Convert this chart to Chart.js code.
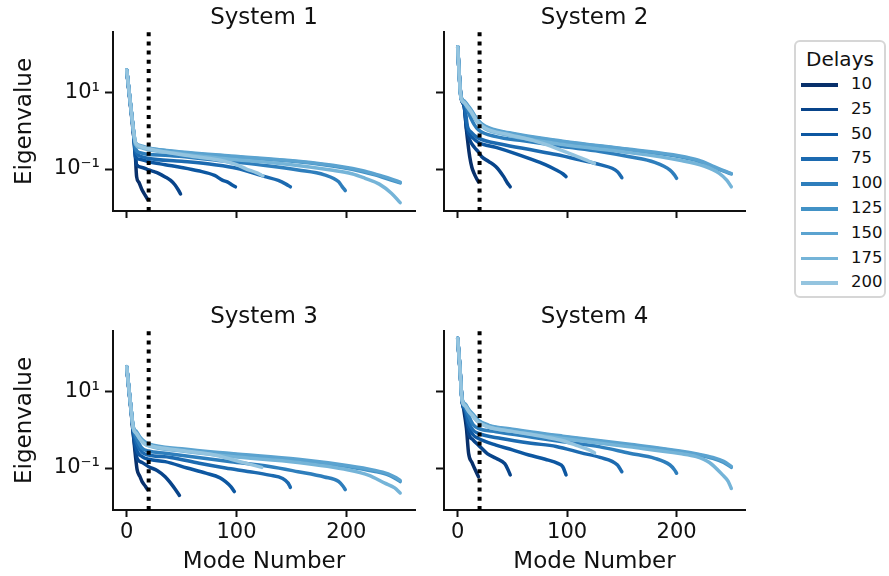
<!DOCTYPE html>
<html>
<head>
<meta charset="utf-8">
<script src="https://cdn.jsdelivr.net/npm/chart.js@4.4.1/dist/chart.umd.min.js"></script>
<style>
html,body{margin:0;padding:0;background:#fff;}
#wrap{position:relative;width:889px;height:576px;overflow:hidden;font-family:'DejaVu Sans',sans-serif;color:#111;}
canvas{position:absolute;}
#legend{position:absolute;left:794px;top:40px;width:92px;height:258px;border:2px solid #d6d6d6;border-radius:6px;box-sizing:border-box;background:#fff;}
#legend .ttl{position:absolute;left:0;width:100%;top:4px;text-align:center;font-size:20px;line-height:26px;}
#legend .row{position:absolute;left:0;width:100%;height:20px;}
#legend .hd{position:absolute;left:5px;width:37px;height:3.5px;top:9px;}
#legend .lb{position:absolute;left:55px;top:0;font-size:16.5px;line-height:20px;}
</style>
</head>
<body>
<div id="wrap">
  <canvas id="c1" width="430" height="260" style="left:0px;top:0px"></canvas>
  <canvas id="c2" width="330" height="260" style="left:430px;top:0px"></canvas>
  <canvas id="c3" width="430" height="277" style="left:0px;top:299px"></canvas>
  <canvas id="c4" width="330" height="277" style="left:430px;top:299px"></canvas>
  <div id="legend"></div>
</div>
<script>
// ---------- data ----------
const delays = [10, 25, 50, 75, 100, 125, 150, 175, 200];
const titles = ['System 1', 'System 2', 'System 3', 'System 4'];
const xTicks = [0, 100, 200];
const yTicks = [0.1, 10];
const yTickLabels = ['10\u207B\u00B9', '10\u00B9'];
const cutoffMode = 20;
const xLabel = 'Mode Number';
const yLabel = 'Eigenvalue';
const legendTitle = 'Delays';

// System 1  ([mode, eigenvalue])
const sys1_d10  = [[0,38],[2,11],[4,3.2],[6,0.9],[7.6,0.32],[9,0.063],[11,0.045],[14,0.028],[17,0.02],[19,0.016]];
const sys1_d25  = [[0,39],[2,11.5],[4,3.4],[6,1.0],[8,0.21],[9,0.13],[14,0.11],[20,0.094],[25,0.085],[29,0.077],[35,0.062],[40,0.05],[44,0.038],[47,0.028],[49,0.022]];
const sys1_d50  = [[0,40],[2,12],[4,3.5],[6,1.05],[8,0.21],[12,0.18],[20,0.155],[35,0.13],[50,0.11],[65,0.09],[80,0.068],[87,0.051],[92,0.045],[96,0.038],[99,0.034]];
const sys1_d75  = [[0,40],[2,12],[4,3.6],[6,1.1],[8,0.3],[12,0.22],[20,0.19],[50,0.16],[80,0.13],[100,0.105],[126,0.063],[138,0.05],[145,0.04],[149,0.034]];
const sys1_d100 = [[0,40],[2,12],[4,3.6],[6,1.1],[8,0.35],[12,0.27],[20,0.24],[35,0.23],[95,0.155],[130,0.12],[156,0.094],[180,0.07],[193,0.046],[196,0.035],[199,0.027]];
const sys1_d125 = [[0,40],[2,12],[4,3.6],[6,1.1],[8,0.48],[12,0.4],[20,0.35],[50,0.27],[95,0.21],[156,0.155],[196,0.11],[215,0.085],[226,0.07],[240,0.052],[249,0.043]];
const sys1_d150 = [[0,41],[2,12.5],[4,3.7],[6,1.15],[8,0.5],[12,0.42],[20,0.36],[50,0.28],[95,0.22],[156,0.16],[196,0.115],[215,0.09],[226,0.074],[240,0.056],[249,0.045]];
const sys1_d175 = [[0,40],[2,12],[4,3.6],[6,1.1],[8,0.45],[12,0.37],[20,0.32],[50,0.25],[95,0.18],[150,0.13],[186,0.094],[205,0.075],[217,0.057],[230,0.04],[241,0.023],[249,0.013]];
const sys1_d200 = [[0,40],[2,12],[4,3.6],[6,1.1],[8,0.5],[12,0.4],[20,0.34],[63,0.21],[85,0.17],[100,0.13],[109,0.1],[118,0.08],[124,0.066]];

// System 2
const sys2_d10  = [[0,160],[1,48],[3,7.5],[6,4.4],[8,1.07],[11,0.21],[13,0.11],[15,0.077],[17,0.058],[19,0.046]];
const sys2_d25  = [[0,166],[1,50],[3,8],[6,4.4],[8,1.2],[11,0.58],[15,0.38],[19,0.28],[22,0.21],[28,0.16],[35,0.115],[42,0.063],[45,0.045],[48,0.034]];
const sys2_d50  = [[0,166],[1,50],[3,8],[6,4.5],[8,1.5],[10,0.9],[14,0.65],[19,0.5],[35,0.37],[50,0.27],[65,0.19],[80,0.13],[90,0.094],[96,0.075],[99,0.063]];
const sys2_d75  = [[0,166],[1,50],[3,8],[6,5],[9,1.3],[12,0.95],[19,0.65],[40,0.45],[67,0.32],[90,0.24],[113,0.17],[130,0.13],[146,0.085],[150,0.059]];
const sys2_d100 = [[0,166],[1,50],[3,8],[6,5.5],[9,3.5],[12,2.2],[15,1.5],[19,1.07],[35,0.71],[60,0.55],[96,0.39],[130,0.29],[157,0.21],[180,0.15],[194,0.094],[198,0.07],[200,0.057]];
const sys2_d125 = [[0,166],[1,50],[3,8],[6,6],[9,4.6],[12,3.6],[15,2.6],[18,1.96],[25,1.3],[47,0.87],[96,0.52],[157,0.32],[203,0.21],[220,0.16],[233,0.11],[243,0.088],[250,0.074]];
const sys2_d150 = [[0,166],[1,50],[3,8.2],[6,6.2],[9,4.8],[12,3.7],[15,2.7],[18,2.0],[25,1.35],[47,0.9],[96,0.54],[157,0.33],[203,0.22],[220,0.17],[233,0.12],[243,0.09],[250,0.076]];
const sys2_d175 = [[0,165],[1,48],[3,7.6],[6,5.6],[9,4.2],[12,3.2],[15,2.3],[18,1.7],[25,1.15],[47,0.76],[96,0.44],[157,0.27],[203,0.17],[225,0.12],[239,0.077],[246,0.05],[250,0.034]];
const sys2_d200 = [[0,165],[1,48],[3,7.6],[6,5.6],[9,4.3],[12,3.3],[15,2.4],[18,1.8],[25,1.2],[47,0.8],[70,0.55],[85,0.4],[96,0.3],[110,0.21],[120,0.16],[125,0.14]];

// System 3
const sys3_d10  = [[0,44],[2,11],[4,3.0],[6.5,0.55],[8,0.2],[9.5,0.089],[12,0.06],[14,0.044],[17,0.033],[19,0.027]];
const sys3_d25  = [[0,45],[2,11.5],[4,3.2],[6,0.8],[9.5,0.18],[14,0.14],[20,0.108],[28,0.085],[35,0.059],[40,0.04],[44,0.028],[48,0.019]];
const sys3_d50  = [[0,46],[2,12],[4,3.4],[6,0.9],[9,0.3],[14,0.2],[20,0.17],[35,0.147],[55,0.1],[72,0.073],[85,0.055],[90,0.044],[95,0.032],[98,0.024]];
const sys3_d75  = [[0,46],[2,12],[4,3.4],[6,1.0],[9,0.45],[14,0.26],[20,0.22],[40,0.19],[66,0.133],[90,0.1],[112,0.08],[130,0.065],[142,0.053],[147,0.04],[149,0.031]];
const sys3_d100 = [[0,46],[2,12],[4,3.4],[6,1.1],[9,0.6],[14,0.33],[20,0.28],[35,0.245],[95,0.147],[130,0.11],[156,0.08],[180,0.058],[193,0.044],[197,0.033],[199,0.027]];
const sys3_d125 = [[0,46],[2,12],[4,3.4],[6,1.15],[9,0.85],[12,0.62],[16,0.47],[20,0.41],[50,0.3],[95,0.23],[156,0.16],[202,0.108],[225,0.082],[238,0.066],[245,0.052],[249,0.044]];
const sys3_d150 = [[0,47],[2,12.5],[4,3.5],[6,1.2],[9,0.9],[12,0.65],[16,0.5],[20,0.43],[50,0.32],[95,0.24],[156,0.17],[202,0.115],[225,0.088],[238,0.07],[245,0.056],[249,0.047]];
const sys3_d175 = [[0,46],[2,12],[4,3.4],[6,1.1],[9,0.8],[12,0.58],[16,0.44],[20,0.38],[50,0.28],[95,0.2],[156,0.14],[202,0.089],[220,0.065],[235,0.04],[244,0.03],[249,0.022]];
const sys3_d200 = [[0,46],[2,12],[4,3.4],[6,1.1],[9,0.8],[12,0.58],[16,0.44],[20,0.39],[50,0.29],[80,0.22],[95,0.17],[110,0.13],[123,0.104]];

// System 4
const sys4_d10  = [[0,250],[1,100],[2,42],[4,6],[5.5,3.5],[8,1.1],[10,0.24],[13,0.14],[16,0.09],[19,0.059]];
const sys4_d25  = [[0,255],[1,105],[2,44],[4,6],[7,3],[10,0.81],[14,0.55],[19,0.4],[27,0.24],[35,0.18],[43,0.13],[46,0.09],[48,0.066]];
const sys4_d50  = [[0,258],[1,110],[2,46],[4,6],[7,3],[10,1.2],[14,0.75],[19,0.6],[35,0.4],[50,0.3],[65,0.22],[80,0.17],[92,0.13],[96,0.108],[99,0.066]];
const sys4_d75  = [[0,258],[1,110],[2,46],[4,6.2],[7,3.5],[10,1.6],[14,1.0],[19,0.81],[40,0.6],[67,0.45],[90,0.37],[113,0.25],[130,0.19],[146,0.12],[150,0.08]];
const sys4_d100 = [[0,258],[1,110],[2,46],[4,6.2],[7,3.8],[10,2.4],[14,1.4],[19,1.1],[35,0.9],[60,0.7],[96,0.49],[130,0.36],[157,0.245],[180,0.18],[194,0.12],[198,0.09],[200,0.073]];
const sys4_d125 = [[0,258],[1,110],[2,46],[4,6.5],[7,4.6],[10,3.4],[14,2.5],[19,1.75],[28,1.3],[50,1.0],[96,0.66],[157,0.4],[203,0.27],[220,0.22],[233,0.18],[243,0.14],[250,0.104]];
const sys4_d150 = [[0,258],[1,110],[2,47],[4,6.7],[7,4.8],[10,3.5],[14,2.6],[19,1.8],[28,1.35],[50,1.05],[96,0.69],[157,0.42],[203,0.28],[220,0.23],[233,0.19],[243,0.15],[250,0.11]];
const sys4_d175 = [[0,256],[1,105],[2,44],[4,6.2],[7,4.3],[10,3.1],[14,2.3],[19,1.6],[28,1.2],[50,0.92],[96,0.6],[157,0.36],[203,0.24],[218,0.2],[230,0.14],[242,0.066],[247,0.045],[250,0.029]];
const sys4_d200 = [[0,256],[1,105],[2,44],[4,6.2],[7,4.3],[10,3.1],[14,2.3],[19,1.6],[28,1.2],[50,0.92],[80,0.65],[96,0.52],[110,0.38],[120,0.3],[125,0.25]];

const system1 = [sys1_d10, sys1_d25, sys1_d50, sys1_d75, sys1_d100, sys1_d125, sys1_d150, sys1_d175, sys1_d200];
const system2 = [sys2_d10, sys2_d25, sys2_d50, sys2_d75, sys2_d100, sys2_d125, sys2_d150, sys2_d175, sys2_d200];
const system3 = [sys3_d10, sys3_d25, sys3_d50, sys3_d75, sys3_d100, sys3_d125, sys3_d150, sys3_d175, sys3_d200];
const system4 = [sys4_d10, sys4_d25, sys4_d50, sys4_d75, sys4_d100, sys4_d125, sys4_d150, sys4_d175, sys4_d200];

// ---------- style ----------
const colors = ['#08306b','#08448a','#0d57a1','#1c6ab0','#2e7ebc','#4292c6','#5ba3d0','#75b4d8','#94c4df'];
const FONT = "'DejaVu Sans', sans-serif";
const X_MIN = -12.5, X_MAX = 262.5;
const Y_MIN = Math.pow(10, -2.105), Y_MAX = Math.pow(10, 2.605);

function makePanel(id, title, series, showX, showY, yAxisW, xAxisH) {
  const datasets = [{
    data: [[cutoffMode, Y_MIN], [cutoffMode, Y_MAX]],
    borderColor: '#000', borderWidth: 4, borderDash: [4, 5.2], borderCapStyle: 'butt',
    pointRadius: 0, order: 0, tension: 0
  }];
  series.forEach((s, i) => datasets.push({
    label: String(delays[i]), data: s, borderColor: colors[i], borderWidth: 3.5,
    pointRadius: 0, order: 20 - i, cubicInterpolationMode: 'monotone',
    borderJoinStyle: 'round', borderCapStyle: 'round'
  }));
  const tickFont = { family: FONT, size: 21 };
  const labFont = { family: FONT, size: 23 };
  new Chart(document.getElementById(id), {
    type: 'line',
    data: { datasets },
    options: {
      responsive: false, animation: false, devicePixelRatio: 1,
      events: [],
      layout: { padding: { left: 0, right: 15, top: 0, bottom: 0 }, autoPadding: false },
      plugins: {
        legend: { display: false }, tooltip: { enabled: false },
        title: { display: true, text: title, fullSize: false, color: '#111',
                 font: { family: FONT, size: 23, weight: 'normal', lineHeight: 1.2 },
                 padding: { top: 4, bottom: 0.4 } }
      },
      scales: {
        x: {
          type: 'linear', min: X_MIN, max: X_MAX,
          afterBuildTicks: s => { s.ticks = xTicks.map(v => ({ value: v })); },
          afterFit: s => { s.height = xAxisH; },
          ticks: { autoSkip: false, maxRotation: 0, font: tickFont, color: '#111', padding: 3,
                   callback: v => showX ? String(v) : '' },
          grid: { drawOnChartArea: false, drawTicks: true, tickLength: 7, tickWidth: 2, tickColor: '#111' },
          border: { display: true, color: '#111', width: 2 },
          title: { display: showX, text: xLabel, font: labFont, color: '#111', padding: { top: 0, bottom: 0 } }
        },
        y: {
          type: 'logarithmic', min: Y_MIN, max: Y_MAX,
          afterBuildTicks: s => { s.ticks = yTicks.map(v => ({ value: v })); },
          afterFit: s => { s.width = yAxisW; },
          ticks: { autoSkip: false, font: tickFont, color: '#111', padding: 5,
                   callback: v => { const k = yTicks.indexOf(v); return (showY && k >= 0) ? yTickLabels[k] : ''; } },
          grid: { drawOnChartArea: false, drawTicks: true, tickLength: 8, tickWidth: 2, tickColor: '#111' },
          border: { display: true, color: '#111', width: 2 },
          title: { display: showY, text: yLabel, font: labFont, color: '#111', padding: { top: 11, bottom: 0 } }
        }
      }
    }
  });
}

makePanel('c1', titles[0], system1, false, true, 113, 49);
makePanel('c2', titles[1], system2, false, false, 14, 49);
makePanel('c3', titles[2], system3, true, true, 113, 66);
makePanel('c4', titles[3], system4, true, false, 14, 66);

// legend (HTML)
const lg = document.getElementById('legend');
const t = document.createElement('div'); t.className = 'ttl'; t.textContent = legendTitle; lg.appendChild(t);
delays.forEach((d, i) => {
  const r = document.createElement('div'); r.className = 'row'; r.style.top = (32 + 24.8 * i) + 'px';
  const h = document.createElement('div'); h.className = 'hd'; h.style.background = colors[i];
  const l = document.createElement('div'); l.className = 'lb'; l.textContent = String(d);
  r.appendChild(h); r.appendChild(l); lg.appendChild(r);
});
</script>
</body>
</html>
